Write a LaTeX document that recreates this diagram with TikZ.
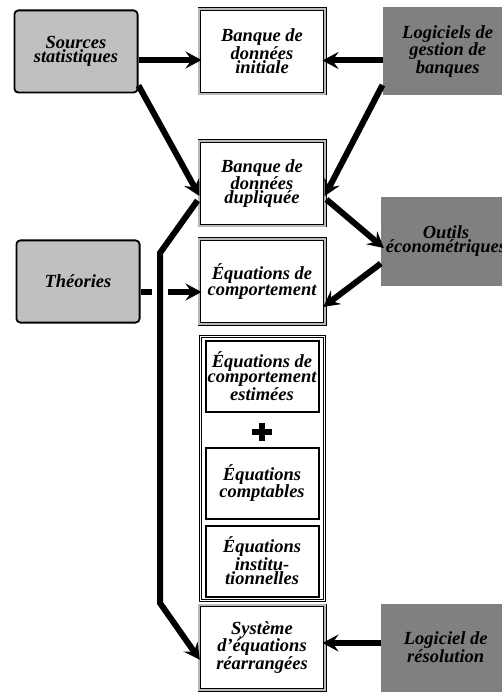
\documentclass[tikz,border=0pt]{standalone}
\usepackage{fontspec}
\setmainfont{Liberation Serif}
\usepackage{xcolor}
\usepackage{tikz}
\usetikzlibrary{positioning,arrows.meta,calc}

\definecolor{srcgray}{RGB}{192,192,192}
\definecolor{toolgray}{RGB}{128,128,128}

\begin{document}
\begin{tikzpicture}[
    x=1pt, y=-1pt,
    % Style definitions
    label/.style={align=center, inner sep=2pt, font=\bfseries\itshape\fontsize{18.5}{12.5}\selectfont},
    bankbox/.style={label, draw=black, line width=0.9pt, double=gray!55, double distance=2pt, fill=white, outer sep=1.9pt, minimum width=125.2pt, minimum height=84.2pt},
    bigbox/.style={draw=black, line width=1pt, double=white, double distance=1pt, outer sep=1.5pt, minimum width=124pt, minimum height=264pt},
    subbox/.style={label, draw=black, line width=2pt, fill=white, minimum width=113pt, minimum height=71pt},
    srcbox/.style={label, draw=black, line width=1.8pt, fill=srcgray, rounded corners=4pt, minimum width=123.2pt, minimum height=82.2pt},
    toolbox/.style={label, fill=toolgray, minimum width=130pt, minimum height=88pt},
    plusmark/.style={minimum width=20pt, minimum height=18pt, inner sep=0pt},
    arrow/.style={-{Stealth[length=16pt,width=17pt,inset=6pt]}, line width=6pt, shorten >=-4pt}
]

\useasboundingbox (0,0) rectangle (501,692);

% Central column
\node[bankbox] (init) at (262,51.5) {Banque de\\données\\initiale};
\node[bankbox, below=44pt of init] (dup) {Banque de\\données\\dupliquée};
\node[bankbox, below=10pt of dup] (comp) {Équations de\\comportement};
\node[bigbox, below=9pt of comp] (model) {};
\node[bankbox, below=2pt of model] (sys) {Système\\d’équations\\réarrangées};

% Equations inside the model
\node[subbox, below=5pt of model.north] (estim) {Équations de\\comportement\\estimées};
\node[plusmark, below=10pt of estim] (plus) {};
\node[subbox, below=34pt of estim] (compt) {Équations\\comptables};
\node[subbox, below=5pt of compt] (instit) {Équations\\institu-\\tionnelles};
\fill ([xshift=-10pt,yshift=-3pt]plus.center) rectangle ([xshift=10pt,yshift=3pt]plus.center);
\fill ([xshift=-3pt,yshift=-9pt]plus.center) rectangle ([xshift=3pt,yshift=9pt]plus.center);

% Sources and tools
\node[srcbox, left=59pt of init] (sources) {Sources\\statistiques};
\node[srcbox, left=57pt of comp] (theories) {Théories};
\node[toolbox, right=56pt of init] (gestion) {Logiciels de\\gestion de\\banques};
\node[toolbox] (outils) at (446,241.5) {Outils\\économétriques};
\node[toolbox, right=54pt of sys] (resol) {Logiciel de\\résolution};

\coordinate (bendtop) at (160,253);
\coordinate (bendbot) at (160,603);

% Connections
\draw[arrow] ([yshift=-8.5pt]sources.east) -- ([yshift=-8.5pt]init.west);
\draw[arrow] ([yshift=-9pt]gestion.west) -- ([yshift=-9pt]init.east);
\draw[arrow] ([yshift=-34pt]sources.east) -- ([yshift=-9pt]dup.west);
\draw[arrow] ([yshift=-33.5pt]gestion.west) -- ([yshift=-9pt]dup.east);
\draw[arrow] ([yshift=-16pt]dup.east) -- ([yshift=-4pt]outils.west);
\draw[arrow] ([yshift=-22pt]outils.west) -- ([yshift=-23pt]comp.east);
\draw[arrow] ([yshift=-10.5pt]theories.east) -- ([yshift=-10.5pt]comp.west);
\draw[arrow] ([yshift=4.5pt]resol.west) -- ([yshift=4.5pt]sys.east);

% Long connector crossing the Theories arrow
\draw[white, line width=16pt] (bendtop) -- (bendbot);
\draw[arrow] ([yshift=-17pt]dup.west) -- (bendtop) -- (bendbot) -- ([yshift=-9pt]sys.west);

\end{tikzpicture}
\end{document}
